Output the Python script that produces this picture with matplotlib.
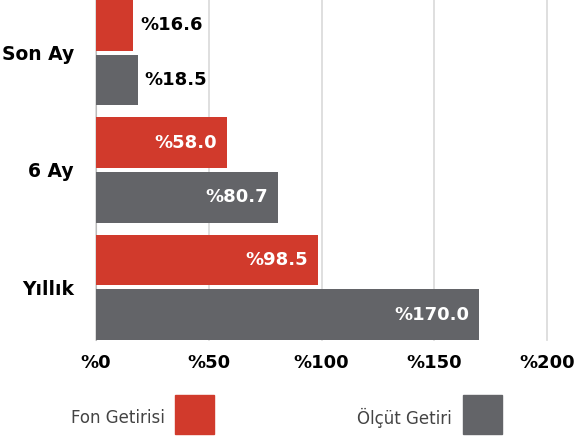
import matplotlib
matplotlib.use("Agg")
import matplotlib.pyplot as plt
from matplotlib.patches import Rectangle

categories = ["Son Ay", "6 Ay", "Yıllık"]
fon_getirisi = [16.6, 58.0, 98.5]
olcut_getiri = [18.5, 80.7, 170.0]
series_names = ["Fon Getirisi", "Ölçüt Getiri"]
xticks = [0, 50, 100, 150, 200]

RED = "#d13a2c"
GRAY = "#636468"

plt.rcParams['font.family'] = ['DejaVu Sans']

fig = plt.figure(figsize=(5.77, 4.41), dpi=100)
ax = fig.add_axes([96 / 577, 1 - 340 / 441, 451 / 577, 340 / 441])

h = 0.432
off = 0.233
ys = list(range(len(categories)))

ax.barh([y - off for y in ys], fon_getirisi, height=h, color=RED, zorder=3)
ax.barh([y + off for y in ys], olcut_getiri, height=h, color=GRAY, zorder=3)

for series, sign in [(fon_getirisi, -1), (olcut_getiri, 1)]:
    for y, v in zip(ys, series):
        label = f"%{v:.1f}"
        if v > 40:
            ax.annotate(label, (v, y + sign * off), xytext=(-7, 0), textcoords="offset points",
                        ha="right", va="center", color="white", fontsize=13, fontweight="bold", zorder=4)
        else:
            ax.annotate(label, (v, y + sign * off), xytext=(5, 0), textcoords="offset points",
                        ha="left", va="center", color="black", fontsize=13, fontweight="bold", zorder=4)

ax.set_xlim(0, 200)
ax.set_ylim(2 + off + h / 2, -off - h / 2)
ax.set_xticks(xticks)
ax.set_xticklabels([f"%{t}" for t in xticks], fontsize=13, fontweight="bold")
ax.set_yticks(ys)
ax.set_yticklabels(categories, fontsize=13.5, fontweight="bold")
ax.tick_params(axis="both", length=0)
ax.tick_params(axis="x", pad=10)
ax.tick_params(axis="y", pad=16)
ax.grid(axis="x", color="#d9d9d9", linewidth=1.2, zorder=0)
for gl in ax.get_xgridlines():
    gl.set_clip_on(False)
for s in ["top", "right", "bottom"]:
    ax.spines[s].set_visible(False)
ax.spines["left"].set_color("#bbbbbb")

# legend at the bottom
for name, color, tx, rx in [(series_names[0], RED, 165 / 577, 175 / 577),
                            (series_names[1], GRAY, 452 / 577, 463 / 577)]:
    fig.text(tx, 1 - 418 / 441, name, ha="right", va="center", fontsize=12, color="#444444")
    fig.add_artist(Rectangle((rx, 1 - 434 / 441), 39 / 577, 39 / 441,
                             transform=fig.transFigure, color=color))

fig.savefig("out.png", dpi=100)
